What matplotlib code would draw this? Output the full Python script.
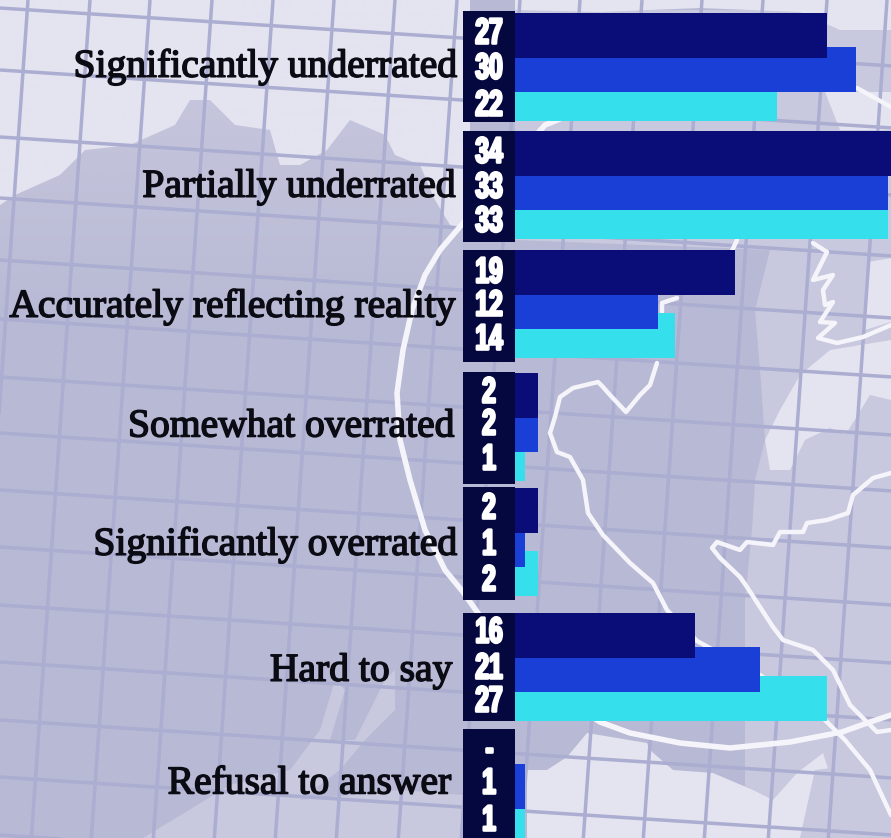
#!/usr/bin/python3
import numpy as np
import matplotlib
matplotlib.use("Agg")
import matplotlib.pyplot as plt
import matplotlib.patheffects as pe
from matplotlib.colors import to_rgb
from matplotlib.patches import Polygon, Rectangle
from matplotlib.transforms import Affine2D

categories = ["Significantly underrated", "Partially underrated", "Accurately reflecting reality",
              "Somewhat overrated", "Significantly overrated", "Hard to say", "Refusal to answer"]

# Printed labels, one list per colour
labels_dark = ["27", "34", "19", "2", "2", "16", "-"]
labels_blue = ["30", "33", "12", "2", "1", "21", "1"]
labels_cyan = ["22", "33", "14", "1", "2", "27", "1"]

# Bar lengths as drawn in the picture, they do not quite follow the rounded labels
values_dark = [27.1, 34.0, 19.1, 2.0, 2.0, 15.65, 0.0]
values_blue = [29.65, 32.4, 12.4, 2.0, 0.9, 21.3, 0.9]
values_cyan = [22.8, 32.4, 13.9, 0.9, 2.0, 27.1, 0.9]

DARK = "#0a0c78"
BLUE = "#1a3fd6"
CYAN = "#35e0ec"
BOX = "#05083f"

LAND = "#b8b9d4"
MID = "#c8c8de"
LIGHT = "#e4e3f0"
GRID = "#abadd1"

W, H = 891, 838

# Layout in pixels
group_top = [13, 131, 250, 373, 488, 613, 730]
box_top = [11, 131, 250, 372, 487, 613, 729]
box_bottom = [122, 242, 362, 484, 600, 721, 838]
label_x = [457, 455, 455, 454, 457, 452, 451]
label_y = [67, 187, 307, 427, 545, 671, 784]
num_y = [[34, 69, 106], [153, 188, 222], [273, 306, 340], [393, 425, 460],
         [509, 545, 581], [633, 669, 702], [750, 784, 821]]

# Map graticule, read at the picture's edges
grid_h = [8, 70, 137, 198, 260, 319, 377, 433, 490, 547, 605, 662, 720, 777, 835]
grid_v = [28, 90, 150, 212, 273, 334, 395, 457, 520, 580, 642, 702, 763, 827, 887]

light_shapes = [
    [(0, 0), (470, 0), (470, 232), (450, 225), (435, 200), (420, 165), (395, 155), (385, 135), (350, 120),
     (327, 150), (300, 165), (280, 165), (270, 130), (235, 125), (210, 100), (190, 100), (175, 125),
     (130, 145), (85, 150), (60, 175), (15, 195), (0, 205)],
    [(515, 0), (891, 0), (891, 30), (840, 30), (800, 12), (700, 8), (600, 12), (515, 10)],
    [(825, 92), (891, 92), (891, 130), (840, 130)],
    [(868, 262), (891, 258), (891, 322), (865, 330)],
    [(800, 375), (830, 350), (891, 340), (891, 432), (860, 440), (830, 428), (805, 440), (790, 470),
     (770, 470), (765, 440), (780, 410)],
    [(527, 770), (547, 770), (567, 757), (587, 733), (647, 743), (650, 750), (673, 770), (713, 773),
     (753, 790), (773, 800), (797, 773), (823, 753), (835, 790), (860, 815), (891, 830),
     (891, 838), (527, 838)],
]
mid_shapes = [
    [(515, 10), (891, 10), (891, 838), (745, 838), (745, 600), (752, 530), (755, 480),
     (765, 440), (760, 370), (755, 310), (770, 250), (515, 240)],
    [(72, 30), (80, 5), (95, 0), (100, 30), (120, 45), (118, 75), (100, 80), (85, 60), (75, 50)],
    [(130, 40), (150, 10), (165, 30), (175, 45), (170, 70), (150, 80), (130, 75)],
    [(362, 15), (378, 0), (415, 0), (415, 25), (400, 30), (385, 35), (370, 30)],
    [(415, 95), (450, 60), (463, 50), (463, 105), (440, 100)],
    [(143, 838), (230, 785), (290, 770), (320, 730), (335, 680), (345, 690), (330, 740), (355, 740),
     (385, 680), (395, 670), (395, 710), (365, 740), (340, 770), (300, 800), (400, 790), (463, 795),
     (463, 838)],
]
land_patches = [
    [(815, 770), (860, 765), (891, 790), (891, 838), (800, 838)],
    [(870, 395), (891, 400), (891, 500), (840, 490), (830, 460)],
]

# White coast and border lines
white_lines = [
    [(575, 113), (545, 125), (510, 165), (470, 215), (440, 250), (425, 275), (412, 310), (403, 350), (397, 393),
     (400, 440), (410, 480), (425, 530), (445, 570), (463, 592), (490, 630), (540, 680), (600, 722), (630, 733),
     (680, 743), (730, 748), (790, 742), (842, 732), (870, 722), (891, 715)],
    [(857, 88), (891, 107)],
    [(657, 363), (650, 385), (640, 395), (626, 412), (610, 395), (603, 387), (598, 382), (573, 388), (560, 397),
     (555, 417), (550, 433), (557, 452), (570, 457), (583, 480), (588, 513), (603, 535), (630, 563), (653, 583),
     (667, 610), (697, 641), (760, 675), (825, 720), (845, 740), (870, 770), (891, 815)],
    [(891, 473), (873, 478), (853, 495), (848, 513), (827, 520), (807, 523), (803, 532), (780, 532), (773, 545),
     (747, 542), (740, 550), (717, 542), (712, 548), (720, 558), (740, 577), (747, 587), (773, 627), (783, 640),
     (813, 650), (833, 670), (850, 705), (877, 732), (891, 730)],
    [(813, 243), (827, 252), (813, 280), (833, 275), (823, 290), (825, 305), (833, 302), (820, 322), (835, 323),
     (818, 338), (837, 343), (863, 337), (891, 325)],
    [(677, 298), (662, 303), (662, 312)],
    [(737, 240), (730, 255)],
]


class Squeeze(pe.AbstractPathEffect):
    # No narrow font installed, so squeeze the glyph outlines sideways around a pixel column
    def __init__(self, center, factor, stroke):
        super().__init__()
        self.center = center
        self.factor = factor
        self.stroke = stroke

    def draw_path(self, renderer, gc, tpath, affine, rgbFace=None):
        squeezed = affine + Affine2D().translate(-self.center, 0).scale(self.factor, 1).translate(self.center, 0)
        gc0 = renderer.new_gc()
        gc0.copy_properties(gc)
        gc0.set_foreground(rgbFace)
        gc0.set_linewidth(self.stroke)
        renderer.draw_path(gc0, tpath, squeezed, rgbFace)
        gc0.restore()


fig = plt.figure(figsize=(W / 100, H / 100), dpi=100)

bg = fig.add_axes([0, 0, 1, 1])
bg.set_xlim(0, W)
bg.set_ylim(H, 0)
bg.axis("off")
bg.add_patch(Rectangle((0, 0), W, H, color=LAND, zorder=0))
for shape in mid_shapes:
    bg.add_patch(Polygon(shape, closed=True, color=MID, lw=0, zorder=1))
for shape in light_shapes:
    bg.add_patch(Polygon(shape, closed=True, color=LIGHT, lw=0, zorder=2))
for shape in land_patches:
    bg.add_patch(Polygon(shape, closed=True, color=MID, lw=0, zorder=3))

# The upper part of the land fades a little lighter on the left
fade = np.zeros((H, 1, 4))
fade[:, :, :3] = to_rgb(LIGHT)
fade[:, 0, 3] = np.clip((330 - np.arange(H)) / 230, 0, 1) * 0.3
bg.imshow(fade, extent=(0, 463, H, 0), aspect="auto", zorder=3.5)
bg.set_xlim(0, W)
bg.set_ylim(H, 0)

# Graticule is slightly tilted
for y0 in grid_h:
    bg.plot([0, W], [y0, y0 + 0.065 * W], color=GRID, lw=2.5, zorder=4, solid_capstyle="butt")
for x0 in grid_v:
    bg.plot([x0, x0 - 0.07 * H], [0, H], color=GRID, lw=2.5, zorder=4, solid_capstyle="butt")

for n, line in enumerate(white_lines):
    xs, ys = zip(*line)
    bg.plot(xs, ys, color="#f4f4fa", lw=4.0 if n == 0 else 3.2, zorder=5,
            solid_joinstyle="round", solid_capstyle="round")

for top, bottom in zip(box_top, box_bottom):
    bg.add_patch(Rectangle((463, top), 52, bottom - top, color=BOX, lw=0, zorder=6))

# Bars on their own axes, 11.5 pixels per percent starting at the box edge
ax = fig.add_axes([515 / W, 0, (W - 515) / W, 1])
ax.patch.set_alpha(0)
ax.set_xlim(0, (W - 515) / 11.5)
ax.set_ylim(H, 0)
ax.axis("off")
bar_h = 45
# cyan first so the darker bars overlap it
for values, offset, color in [(values_cyan, 63, CYAN), (values_blue, 34, BLUE), (values_dark, 0, DARK)]:
    ax.barh([t + offset for t in group_top], values, height=bar_h, align="edge", color=color, linewidth=0)

for i, name in enumerate(categories):
    bg.text(label_x[i], label_y[i], name, ha="right", va="center", fontsize=28.5, family="Liberation Serif",
            color="#0b0b14", zorder=8, path_effects=[pe.withStroke(linewidth=1.1, foreground="#0b0b14")])
    for y, lab in zip(num_y[i], [labels_dark[i], labels_blue[i], labels_cyan[i]]):
        bg.text(489, y, lab, ha="center", va="center", fontsize=26, family="Liberation Sans", weight="bold",
                color="white", zorder=8, path_effects=[Squeeze(489, 0.68, 1.9)])

fig.savefig("out.png", dpi=100)
